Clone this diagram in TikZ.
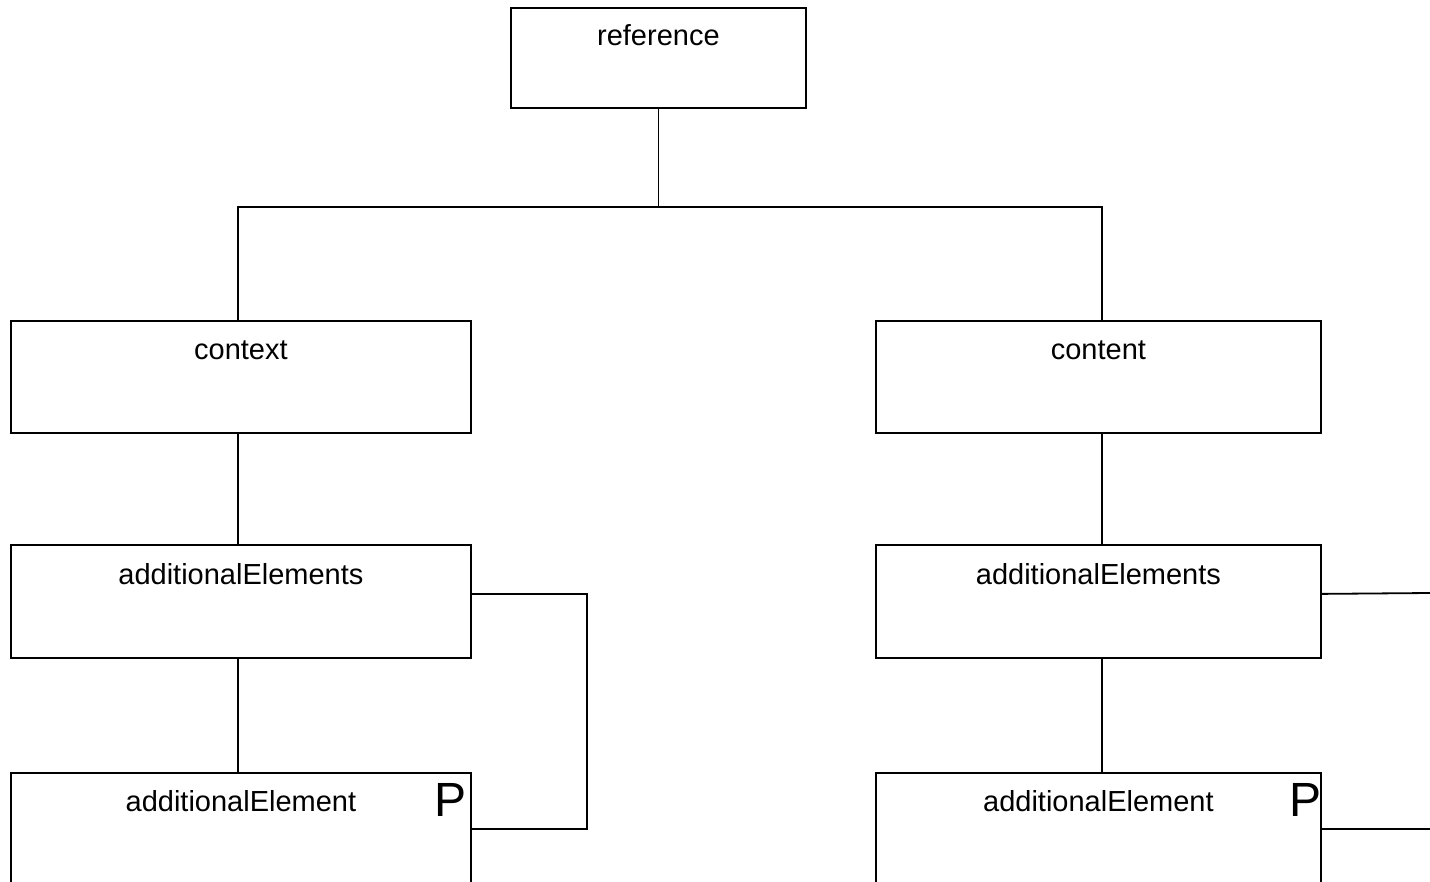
\documentclass[tikz,border=0pt]{standalone}
\usepackage{fontspec}
\setmainfont{Liberation Sans}
\begin{document}
\begin{tikzpicture}[x=1pt,y=-1pt,
  box/.style={draw, line width=1.8pt, rectangle, anchor=north west, inner sep=0pt},
  wire/.style={line width=1.8pt},
  lbl/.style={anchor=base, inner sep=0pt, font=\fontsize{29}{34}\selectfont},
  pmark/.style={anchor=base east, inner sep=0pt, font=\fontsize{48}{56}\selectfont}]
\useasboundingbox (0,0) rectangle (1430,882);
\clip (0,0) rectangle (1430,882);
% boxes
\node[box, minimum width=295pt, minimum height=100pt] (ref) at (510,7) {};
\node[box, minimum width=460pt, minimum height=112pt] (ctx) at (10,320) {};
\node[box, minimum width=445pt, minimum height=112pt] (cnt) at (875,320) {};
\node[box, minimum width=460pt, minimum height=113pt] (ael) at (10,544) {};
\node[box, minimum width=445pt, minimum height=113pt] (aer) at (875,544) {};
\node[box, minimum width=460pt, minimum height=140pt] (el) at (10,772) {};
\node[box, minimum width=445pt, minimum height=140pt] (er) at (875,772) {};
% texts
\node[lbl] (tref) at ([yshift=-39pt]ref.north) {reference};
\node[lbl] (tctx) at ([yshift=-40pt]ctx.north) {context};
\node[lbl] (tcnt) at ([yshift=-40pt]cnt.north) {content};
\node[lbl] (tael) at ([yshift=-40pt]ael.north) {additionalElements};
\node[lbl] (taer) at ([yshift=-40pt]aer.north) {additionalElements};
\node[lbl] (tel) at ([yshift=-39pt]el.north) {additionalElement};
\node[lbl] (ter) at ([yshift=-39pt]er.north) {additionalElement};
\node[pmark] (pl) at ([xshift=-5pt,yshift=-44pt]el.north east) {P};
\node[pmark] (pr) at ([yshift=-44pt]er.north east) {P};
% connectors
\coordinate (junc) at (ref.south |- 0,207);
\draw[wire] (ref.south) -- (junc);
\draw[wire] (junc) -| ([xshift=-3pt]ctx.north);
\draw[wire] (junc) -| ([xshift=3.5pt]cnt.north);
\draw[wire] ([xshift=-3pt]ctx.south) -- ([xshift=-3pt]ael.north);
\draw[wire] ([xshift=3.5pt]cnt.south) -- ([xshift=3.5pt]aer.north);
\draw[wire] ([xshift=-3pt]ael.south) -- ([xshift=-3pt]el.north);
\draw[wire] ([xshift=3.5pt]aer.south) -- ([xshift=3.5pt]er.north);
\draw[wire] ([yshift=7.5pt]ael.east) -- ++(115,0) |- ([yshift=-57pt]el.north east);
\coordinate (rend1) at (1430,593);
\coordinate (rend2) at (1430,829);
\draw[wire] ([yshift=7.5pt]aer.east) -- (rend1);
\draw[wire] ([yshift=-57pt]er.north east) -- (rend2);
\end{tikzpicture}
\end{document}
